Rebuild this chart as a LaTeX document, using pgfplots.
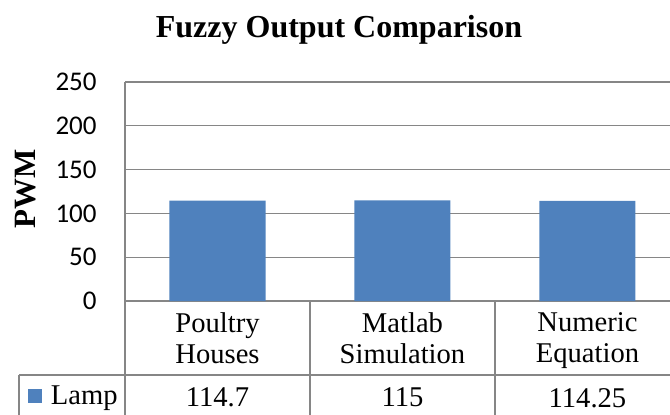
\documentclass[border=0pt]{standalone}
\usepackage{fontspec}
\setmainfont{Liberation Serif}
\newfontfamily\calibri{Carlito}
\usepackage{pgfplots}
\pgfplotsset{compat=1.18}
\definecolor{barblue}{RGB}{79,129,189}
\definecolor{gridgray}{RGB}{134,134,134}
\begin{document}
\begin{tikzpicture}
\path[use as bounding box] (0,0) rectangle (335pt,207pt);
\clip (0,0) rectangle (335pt,207pt);
\begin{axis}[
  at={(62.5pt,56.5pt)}, anchor=south west,
  scale only axis, width=277.5pt, height=109.5pt,
  xmin=0.5, xmax=3.5, ymin=0, ymax=250,
  ytick={0,50,...,250},
  xtick={1,2,3},
  xticklabels={{Poultry\\Houses},{Matlab\\Simulation},{Numeric\\Equation}},
  /pgf/number format/assume math mode=true,
  ymajorgrids, major grid style={draw=gridgray, line width=0.6pt},
  axis lines*=left, axis line style={draw=gridgray, line width=0.6pt, -},
  major tick length=0pt,
  clip=false,
  yticklabel style={font=\calibri\fontsize{13.5}{16}\selectfont, anchor=east, inner sep=0pt, xshift=-14pt},
  xticklabel style={font=\rmfamily\fontsize{14.3}{15.5}\selectfont, align=center, anchor=north, inner sep=0pt, yshift=-5.5pt},
  ylabel={PWM},
  ylabel style={at={(axis description cs:-0.1784,0.511)}, anchor=center, font=\rmfamily\bfseries\fontsize{15.5}{18}\selectfont},
  nodes near coords,
  every node near coord/.append style={anchor=center, inner sep=0pt, yshift=-98.6pt, font=\rmfamily\fontsize{14.3}{16}\selectfont, text=black},
  legend image code/.code={\fill[#1] (0pt,-3.4pt) rectangle (6.8pt,3.4pt);},
  legend style={at={(axis description cs:-0.1748,-0.435)}, anchor=west, draw=none, fill=none, inner sep=0pt, nodes={inner sep=0pt}, column sep=4.5pt, font=\rmfamily\fontsize{14.3}{16}\selectfont},
]
\addplot[ybar, bar width=48pt, fill=barblue, draw=none] coordinates {(1,114.7) (2,115) (3,114.25)};
\addlegendentry{Lamp}
\end{axis}
\begin{scope}[x=0.5pt, y=-0.5pt, shift={(0pt,207pt)}]
\draw[gridgray, line width=0.6pt] (125,301)--(125,420) (310,301)--(310,420) (495,301)--(495,420) (680,301)--(680,420) (19,375)--(690,375) (19,375)--(19,420);
\node[anchor=base, font=\rmfamily\bfseries\fontsize{16}{19}\selectfont] at (339,37) {Fuzzy Output Comparison};
\end{scope}
\end{tikzpicture}
\end{document}
